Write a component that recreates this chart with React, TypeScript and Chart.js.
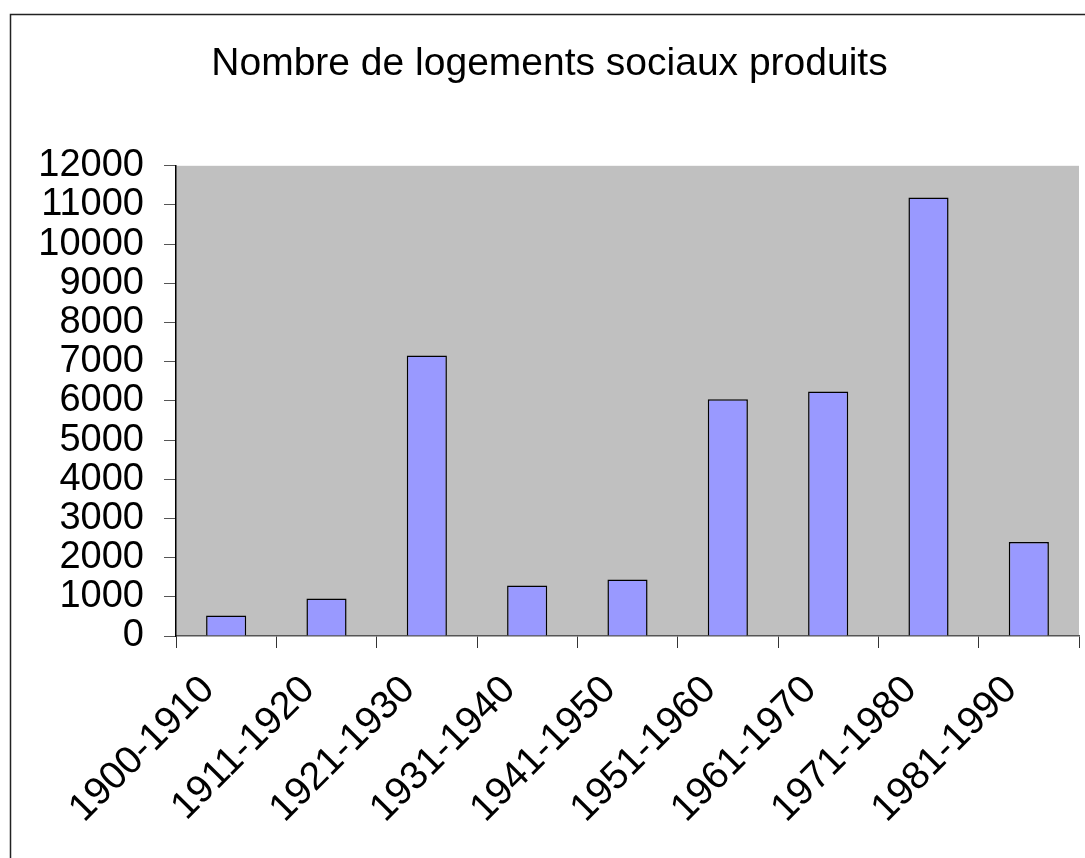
import React, { useEffect, useRef } from "react";
import { Chart, registerables } from "chart.js";

Chart.register(...registerables);

const chartTitle = "Nombre de logements sociaux produits";
const categories = [
  "1900-1910",
  "1911-1920",
  "1921-1930",
  "1931-1940",
  "1941-1950",
  "1951-1960",
  "1961-1970",
  "1971-1980",
  "1981-1990",
];
const housingCounts = [520, 960, 7160, 1290, 1440, 6040, 6240, 11190, 2400];
const yMin = 0;
const yMax = 12000;
const yStep = 1000;

const FONT = "'Liberation Sans', Arial, sans-serif";

const framePlugin = {
  id: "frameAndPlotBg",
  beforeDraw(chart: any) {
    const { ctx, chartArea } = chart;
    ctx.save();
    ctx.fillStyle = "#ffffff";
    ctx.fillRect(0, 0, chart.width, chart.height);
    ctx.strokeStyle = "#222222";
    ctx.lineWidth = 1.5;
    ctx.strokeRect(10.5, 14.5, 1200, 1000);
    ctx.fillStyle = "#C0C0C0";
    ctx.fillRect(
      chartArea.left,
      chartArea.top,
      chartArea.right - chartArea.left,
      chartArea.bottom - chartArea.top
    );
    ctx.restore();
  },
};

export default function App() {
  const canvasRef = useRef<HTMLCanvasElement | null>(null);

  useEffect(() => {
    if (!canvasRef.current) return;
    const chart = new Chart(canvasRef.current, {
      type: "bar",
      data: {
        labels: categories,
        datasets: [
          {
            data: housingCounts,
            backgroundColor: "#9999FF",
            borderColor: "#000000",
            borderWidth: 1.5,
            barPercentage: 0.8,
            categoryPercentage: 0.5,
          },
        ],
      },
      options: {
        responsive: false,
        animation: false,
        layout: { padding: { left: 20, right: 6, top: 0, bottom: 0 } },
        plugins: {
          legend: { display: false },
          tooltip: { enabled: false },
          title: {
            display: true,
            text: chartTitle,
            color: "#000000",
            font: { family: FONT, size: 39, weight: "normal", lineHeight: 1.2 },
            padding: { top: 41, bottom: 78 },
          },
        },
        scales: {
          x: {
            afterFit(scale: any) {
              scale.height = 222;
            },
            grid: {
              display: true,
              offset: true,
              drawOnChartArea: false,
              drawTicks: true,
              tickLength: 12,
              color: "#333333",
            },
            border: { display: true, color: "#555555", width: 1.5 },
            ticks: {
              autoSkip: false,
              minRotation: 45,
              maxRotation: 45,
              padding: 19,
              labelOffset: -18,
              color: "#000000",
              font: { family: FONT, size: 39, lineHeight: 1.2 },
            },
          },
          y: {
            min: yMin,
            max: yMax,
            afterFit(scale: any) {
              scale.width = 156;
            },
            grid: {
              display: true,
              drawOnChartArea: false,
              drawTicks: true,
              tickLength: 12,
              color: "#555555",
            },
            border: { display: true, color: "#000000", width: 1.5 },
            ticks: {
              stepSize: yStep,
              autoSkip: false,
              padding: 20,
              color: "#000000",
              font: { family: FONT, size: 38, lineHeight: 1.2 },
              callback: (value: any) => String(value),
            },
          },
        },
      },
      plugins: [framePlugin],
    });
    return () => chart.destroy();
  }, []);

  return (
    <div style={{ position: "fixed", left: 0, top: 0, width: 1085, height: 858, background: "#fff" }}>
      <canvas ref={canvasRef} width={1085} height={858} />
    </div>
  );
}
